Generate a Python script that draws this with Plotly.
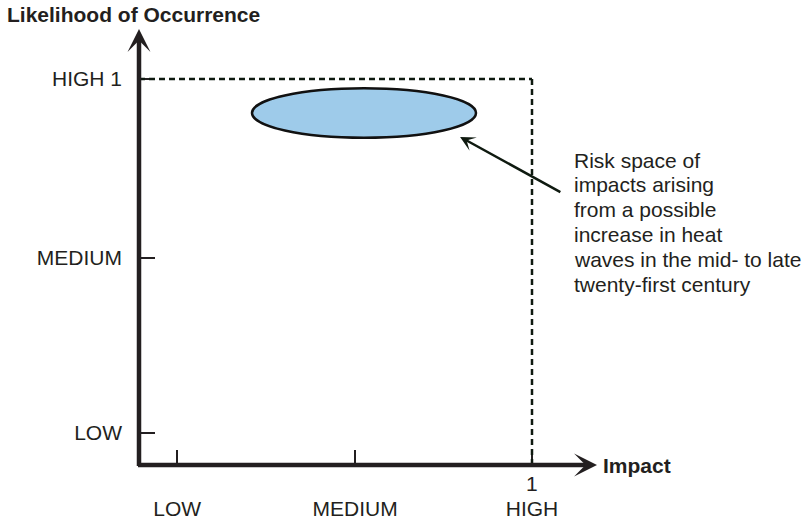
import plotly.graph_objects as go

# ---- data ----
x_tick_vals = [0.097, 0.550, 1.0]
x_tick_text = ["LOW", "MEDIUM", "HIGH"]
y_tick_vals = [0.083, 0.536, 1.0]
y_tick_text = ["LOW", "MEDIUM", "HIGH 1"]
x_max_label = "1"
x_title = "Impact"
y_title = "Likelihood of Occurrence"

# risk space ellipse (impact range, likelihood range)
risk_impact = [0.2875, 0.8575]
risk_likelihood = [0.848, 0.976]
# annotation arrow: head point and tail point
arrow_head = [0.817, 0.850]
arrow_tail = [1.076, 0.705]
note_lines = [
    "Risk space of",
    "impacts arising",
    "from a possible",
    "increase in heat",
    "waves in the mid- to late",
    "twenty-first century",
]

# ---- layout geometry (pixels) ----
W, H = 805, 523
ox, oy = 139, 465          # origin pixel
sx, sy = 393, 386          # pixels per unit
def dx(px): return (px - ox) / sx
def dy(py): return (oy - py) / sy

TXT = "#231f20"
DARK = "#0f1a10"
FONT = "Liberation Sans, Arial, Helvetica, sans-serif"
FS = 21

fig = go.Figure()
fig.add_trace(go.Scatter(x=[None], y=[None], showlegend=False, hoverinfo="skip"))

shapes = []
# dashed bounding lines at max likelihood / max impact
shapes.append(dict(type="line", xref="x", yref="y", x0=0, y0=y_tick_vals[-1],
                   x1=x_tick_vals[-1], y1=y_tick_vals[-1],
                   line=dict(color=DARK, width=2.5, dash="6px,4px")))
shapes.append(dict(type="line", xref="x", yref="y", x0=x_tick_vals[-1], y0=y_tick_vals[-1],
                   x1=x_tick_vals[-1], y1=0,
                   line=dict(color=DARK, width=2.5, dash="6px,4px")))
# risk ellipse
shapes.append(dict(type="circle", xref="x", yref="y",
                   x0=risk_impact[0], x1=risk_impact[1],
                   y0=risk_likelihood[0], y1=risk_likelihood[1],
                   fillcolor="#9ecbea", line=dict(color="#111111", width=2.5)))

annotations = []
# axis arrows
annotations.append(dict(x=0, y=dy(29), ax=0, ay=dy(467.5), xref="x", yref="y",
                        axref="x", ayref="y", text="", showarrow=True,
                        arrowhead=3, arrowsize=0.85, arrowwidth=4.5, arrowcolor=TXT, standoff=0))
annotations.append(dict(x=dx(597), y=0, ax=dx(136.5), ay=0, xref="x", yref="y",
                        axref="x", ayref="y", text="", showarrow=True,
                        arrowhead=3, arrowsize=0.85, arrowwidth=4.5, arrowcolor=TXT, standoff=0))
# pointer arrow
annotations.append(dict(x=arrow_head[0], y=arrow_head[1], ax=arrow_tail[0], ay=arrow_tail[1],
                        xref="x", yref="y", axref="x", ayref="y", text="", showarrow=True,
                        arrowhead=3, arrowsize=1.0, arrowwidth=2.5, arrowcolor=DARK, standoff=0))
# note text
for i, line in enumerate(note_lines):
    annotations.append(dict(x=dx(572), y=dy(160 + 24.8 * i), xref="x", yref="y",
                            text=line, showarrow=False, xanchor="left", yanchor="middle",
                            font=dict(family=FONT, size=FS, color=TXT)))
# axis titles
annotations.append(dict(x=5 / W, y=1 - 15 / H, xref="paper", yref="paper",
                        text="<b>" + y_title + "</b>", showarrow=False,
                        xanchor="left", yanchor="middle",
                        font=dict(family=FONT, size=FS, color=TXT)))
annotations.append(dict(x=dx(601), y=0, xref="x", yref="y",
                        text="<b>" + x_title + "</b>", showarrow=False,
                        xanchor="left", yanchor="middle",
                        font=dict(family=FONT, size=FS, color=TXT)))
annotations.append(dict(x=x_tick_vals[-1], y=dy(483), xref="x", yref="y",
                        text=x_max_label, showarrow=False,
                        xanchor="center", yanchor="middle",
                        font=dict(family=FONT, size=FS, color=TXT)))

fig.update_layout(
    width=W, height=H,
    margin=dict(l=0, r=0, t=0, b=0, autoexpand=False),
    plot_bgcolor="white", paper_bgcolor="white",
    showlegend=False,
    xaxis=dict(range=[dx(0), dx(W)], anchor="free", position=(H - oy) / H,
               tickvals=x_tick_vals, ticktext=x_tick_text, ticks="inside",
               ticklen=15, tickwidth=2, tickcolor=TXT, showgrid=False,
               zeroline=False, showline=False, ticklabelstandoff=29, automargin=False,
               tickfont=dict(family=FONT, size=FS, color=TXT), fixedrange=True),
    yaxis=dict(range=[dy(H), dy(0)], anchor="free", position=ox / W,
               tickvals=y_tick_vals, ticktext=y_tick_text, ticks="inside",
               ticklen=15, tickwidth=2, tickcolor=TXT, showgrid=False,
               zeroline=False, showline=False, ticklabelstandoff=17, automargin=False,
               tickfont=dict(family=FONT, size=FS, color=TXT), fixedrange=True),
    shapes=shapes,
    annotations=annotations,
)

fig.write_html("out.html", config={"displayModeBar": False},
               post_script="document.body.style.margin='0';document.body.style.overflow='hidden';")
